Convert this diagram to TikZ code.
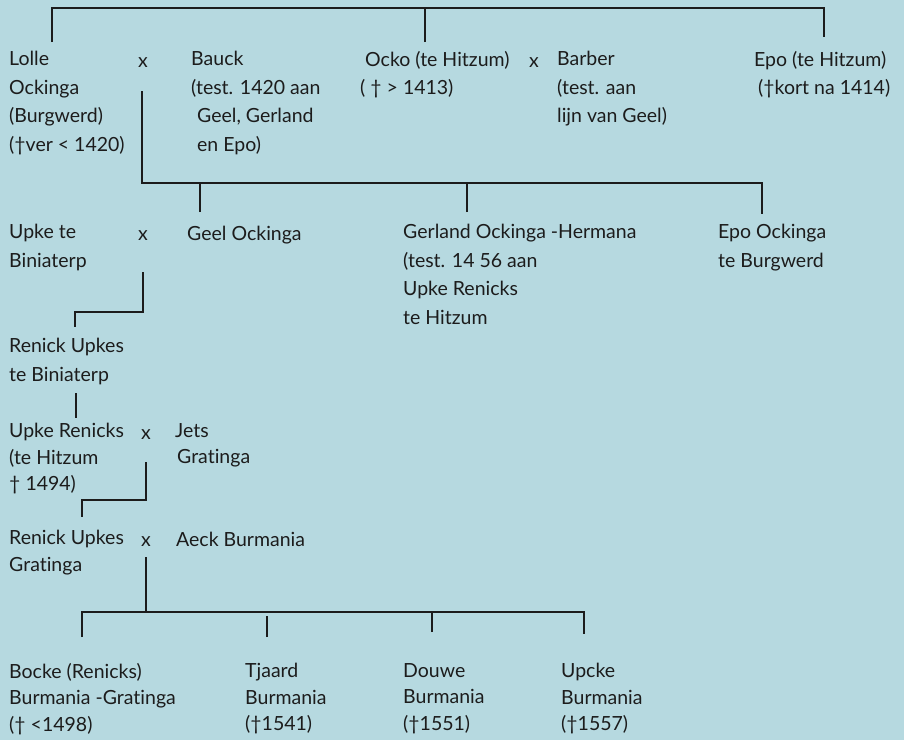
\documentclass[tikz,border=0pt]{standalone}
\usepackage{fontspec}
\setmainfont{Lato}[Ligatures={NoCommon}]
\usepackage{xcolor}
\usepackage{tikz}
\definecolor{sea}{RGB}{182,217,224}
\definecolor{ink}{RGB}{28,28,28}

\begin{document}
\begin{tikzpicture}[x=1pt, y=-1pt]

    % --- STILE ---
    % Knoten sitzen mit der ersten Grundlinie auf der angegebenen Hoehe
    \tikzset{person/.style={anchor=north west, yshift=16pt, inner sep=0pt, align=left, text=ink,
        font=\fontsize{19.5}{28.5}\selectfont, execute at begin node={\rule{0pt}{16pt}}}}
    \tikzset{persontight/.style={person, font=\fontsize{19.5}{26.5}\selectfont}}
    \tikzset{wed/.style={anchor=base west, inner sep=0pt, text=ink, font=\fontsize{19.5}{28.5}\selectfont}}
    \tikzset{kinline/.style={draw=ink, line width=1.7pt}}

    % --- HINTERGRUND ---
    \fill[sea] (0,0) rectangle (904,740);

    % --- 1. GENERATION ---
    \node[person] (lolle) at (9,67) {Lolle\\Ockinga\\(Burgwerd)\\(†ver < 1420)};
    \node[wed] (x1) at (138,67) {x};
    \node[person] (bauck) at (191,67) {Bauck\\(test. 1420 aan\\\hspace*{6pt}Geel, Gerland\\\hspace*{6pt}en Epo)};
    \node[person] (ocko) at (360,67) {\hspace*{5pt}Ocko (te Hitzum)\\( † > 1413)};
    \node[wed] (x2) at (529,67) {x};
    \node[person] (barber) at (557,67) {Barber\\(test. aan\\lijn van Geel)};
    \node[person] (epo) at (754,67) {Epo (te Hitzum)\\\hspace*{4pt}(†kort na 1414)};

    % --- 2. GENERATION ---
    \node[person] (upke) at (9,240) {Upke te\\Biniaterp};
    \node[wed] (x3) at (138,240) {x};
    \node[person] (geel) at (187,240) {Geel Ockinga};
    \node[person] (gerland) at (403,240) {Gerland Ockinga -Hermana\\(test. 14 56 aan\\Upke Renicks\\te Hitzum};
    \node[person] (epoO) at (718,240) {Epo Ockinga\\te Burgwerd};

    % --- 3.-5. GENERATION ---
    \node[person] (renick) at (9,354) {Renick Upkes\\te Biniaterp};
    \node[persontight] (upkeR) at (9,439) {Upke Renicks\\(te Hitzum\\† 1494)};
    \node[wed] (x4) at (141,439) {x};
    \node[persontight] (jets) at (175,439) {Jets\\\hspace*{2pt}Gratinga};
    \node[persontight] (renickG) at (9,546) {Renick Upkes\\Gratinga};
    \node[wed] (x5) at (141,546) {x};
    \node[person] (aeck) at (176,546) {Aeck Burmania};

    % --- 6. GENERATION ---
    \node[persontight] (bocke) at (9,679) {Bocke (Renicks)\\Burmania -Gratinga\\(† <1498)};
    \node[persontight] (tjaard) at (245,679) {Tjaard\\Burmania\\(†1541)};
    \node[persontight] (douwe) at (403,679) {Douwe\\Burmania\\(†1551)};
    \node[persontight] (upcke) at (561,679) {Upcke\\Burmania\\(†1557)};

    % --- STAMMLINIEN ---
    % Querbalken oben
    \coordinate (bar1) at (0,8);
    \coordinate (lolleT) at (52,42);
    \coordinate (ockoT) at (425,42);
    \coordinate (epoT) at (824,37);
    \draw[kinline] (lolleT) -- (lolleT |- bar1) -- (epoT |- bar1) -- (epoT);
    \draw[kinline] (ockoT) -- (ockoT |- bar1);

    % Kinder von Lolle x Bauck
    \coordinate (bar2) at (0,183);
    \coordinate (wed1) at (142,91);
    \coordinate (geelT) at (200,212);
    \coordinate (gerlandT) at (467,212);
    \coordinate (epoOT) at (762,214);
    \draw[kinline] (wed1) -- (wed1 |- bar2) -- (epoOT |- bar2) -- (epoOT);
    \draw[kinline] (geelT) -- (geelT |- bar2);
    \draw[kinline] (gerlandT) -- (gerlandT |- bar2);

    % Upke x Geel
    \coordinate (bar3) at (0,312);
    \coordinate (wed2) at (143,272);
    \coordinate (renickT) at (75,327);
    \draw[kinline] (wed2) -- (wed2 |- bar3) -| (renickT);

    % Renick -> Upke Renicks
    \coordinate (renickB) at (76,393);
    \coordinate (upkeRT) at (76,418);
    \draw[kinline] (renickB) -- (upkeRT);

    % Upke Renicks x Jets
    \coordinate (bar4) at (0,500);
    \coordinate (wed3) at (146,462);
    \coordinate (renickGT) at (82,517);
    \draw[kinline] (wed3) -- (wed3 |- bar4) -| (renickGT);

    % Kinder von Renick x Aeck
    \coordinate (bar5) at (0,612);
    \coordinate (wed4) at (146,557);
    \coordinate (bockeT) at (82,637);
    \coordinate (tjaardT) at (267,637);
    \coordinate (douweT) at (432,632);
    \coordinate (upckeT) at (584,634);
    \draw[kinline] (wed4) -- (wed4 |- bar5);
    \draw[kinline] (bockeT) -- (bockeT |- bar5) -- (upckeT |- bar5) -- (upckeT);
    \draw[kinline] (tjaardT) -- ++(0,-21);
    \draw[kinline] (douweT) -- (douweT |- bar5);

\end{tikzpicture}
\end{document}
